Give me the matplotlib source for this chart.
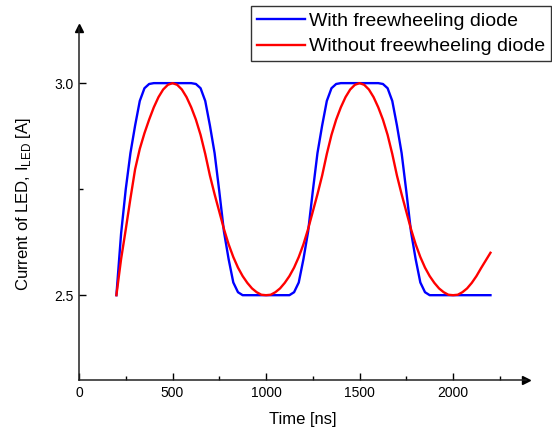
import matplotlib
matplotlib.use("Agg")
import matplotlib.pyplot as plt
from matplotlib.ticker import MultipleLocator, FixedLocator

plt.rcParams["font.family"] = ["Liberation Sans", "DejaVu Sans"]

time_ns = list(range(200, 2201, 25))

# with freewheeling diode (blue)
with_diode = [
    2.500, 2.645, 2.750, 2.835, 2.900, 2.958, 2.988, 2.998,   # 200-375
    3.000, 3.000, 3.000, 3.000, 3.000, 3.000, 3.000, 3.000,   # 400-575
    3.000, 2.998, 2.988, 2.958, 2.900, 2.835, 2.745, 2.650,   # 600-775
    2.585, 2.530, 2.507, 2.500, 2.500, 2.500, 2.500, 2.500,   # 800-975
    2.500, 2.500, 2.500, 2.500, 2.500, 2.500, 2.507, 2.530,   # 1000-1175
    2.585, 2.650, 2.745, 2.835, 2.900, 2.958, 2.988, 2.998,   # 1200-1375
    3.000, 3.000, 3.000, 3.000, 3.000, 3.000, 3.000, 3.000,   # 1400-1575
    3.000, 2.998, 2.988, 2.958, 2.900, 2.835, 2.745, 2.650,   # 1600-1775
    2.585, 2.530, 2.507, 2.500, 2.500, 2.500, 2.500, 2.500,   # 1800-1975
    2.500, 2.500, 2.500, 2.500, 2.500, 2.500, 2.500, 2.500,   # 2000-2175
    2.500,                                                    # 2200
]

# without freewheeling diode (red)
without_diode = [
    2.500, 2.585, 2.655, 2.728, 2.797, 2.845, 2.882, 2.914,   # 200-375
    2.943, 2.967, 2.985, 2.996, 3.000, 2.996, 2.985, 2.967,   # 400-575
    2.943, 2.914, 2.878, 2.833, 2.782, 2.738, 2.697, 2.656,   # 600-775
    2.620, 2.590, 2.565, 2.545, 2.529, 2.516, 2.507, 2.501,   # 800-975
    2.500, 2.501, 2.507, 2.516, 2.529, 2.545, 2.565, 2.590,   # 1000-1175
    2.620, 2.656, 2.697, 2.738, 2.782, 2.833, 2.878, 2.914,   # 1200-1375
    2.943, 2.967, 2.985, 2.996, 3.000, 2.996, 2.985, 2.967,   # 1400-1575
    2.943, 2.914, 2.878, 2.833, 2.782, 2.738, 2.697, 2.656,   # 1600-1775
    2.620, 2.590, 2.565, 2.545, 2.529, 2.516, 2.507, 2.501,   # 1800-1975
    2.500, 2.501, 2.507, 2.516, 2.529, 2.545, 2.564, 2.582,   # 2000-2175
    2.600,                                                    # 2200
]

x_major = [0, 500, 1000, 1500, 2000]
y_major = [2.5, 3.0]
y_tick_labels = ["2.5", "3.0"]

fig = plt.figure(figsize=(5.52, 4.30), dpi=100)
ax = fig.add_axes([79 / 552, 1 - 380 / 430, (526 - 79) / 552, (380 - 28) / 430])

ax.plot(time_ns, with_diode, color="#0000ff", lw=1.7, solid_joinstyle="round",
        label="With freewheeling diode")
ax.plot(time_ns, without_diode, color="#ff0000", lw=1.7, solid_joinstyle="round",
        label="Without freewheeling diode")

ax.set_xlim(0, 2390)
ax.set_ylim(2.3, 3.13)

ax.set_xticks(x_major)
ax.xaxis.set_minor_locator(MultipleLocator(250))
ax.set_yticks(y_major)
ax.set_yticklabels(y_tick_labels)
ax.yaxis.set_minor_locator(FixedLocator([2.75]))
ax.tick_params(which="major", direction="in", length=5, width=1, labelsize=10, pad=4)
ax.tick_params(which="minor", direction="in", length=3, width=1)

for side in ("top", "right"):
    ax.spines[side].set_visible(False)
for side in ("left", "bottom"):
    ax.spines[side].set_linewidth(1.1)
    ax.spines[side].set_color("#222222")

# arrow heads at the end of the axes
ax.plot(1, 0, ">", color="black", ms=6, transform=ax.transAxes, clip_on=False)
ax.plot(0, 1, "^", color="black", ms=6, transform=ax.transAxes, clip_on=False)

ax.set_xlabel("Time [ns]", fontsize=12, labelpad=9)
ax.set_ylabel(r"Current of LED, I$_\mathregular{LED}$ [A]", fontsize=12, labelpad=15)

leg = fig.legend(loc="upper left", bbox_to_anchor=(251 / 552, 1 - 6.5 / 430),
                 fontsize=14, frameon=True, fancybox=False, handlelength=2.5,
                 handletextpad=0.2, borderpad=0.3, labelspacing=0.4,
                 borderaxespad=0)
leg.get_frame().set_edgecolor("black")
leg.get_frame().set_linewidth(1.0)

fig.savefig("out.png", dpi=100)
